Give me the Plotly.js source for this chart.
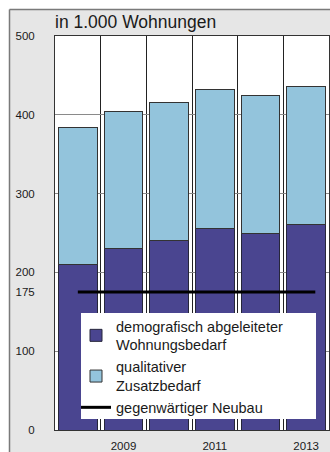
<!DOCTYPE html>
<html><head><meta charset="utf-8">
<script src="https://cdn.plot.ly/plotly-3.0.1.min.js"></script>
<style>html,body{margin:0;padding:0;background:#fff;}#chart{width:330px;height:452px;}</style>
</head><body><div id="chart"></div>
<script>
const years = [2008, 2009, 2010, 2011, 2012, 2013];
const demografisch = [210, 230, 241, 256, 249, 261];
const qualitativ = [174, 174, 175, 176, 175, 175];
const neubauX = [2008, 2013.2];
const neubauY = [175, 175];
const xTickVals = [2009, 2011, 2013];
const xTickText = ['2009', '2011', '2013'];
const yTickVals = [0, 100, 175, 200, 300, 400, 500];
const yGridVals = [100, 200, 300, 400];
const seriesNames = ['demografisch abgeleiteter<br>Wohnungsbedarf', 'qualitativer<br>Zusatzbedarf', 'gegenwärtiger Neubau'];
const titleText = 'in 1.000 Wohnungen';

const W = 330, H = 452, M = {l: 55, r: 1, t: 36, b: 22};
const pw = W - M.l - M.r, ph = H - M.t - M.b;
const fx = px => (px - M.l) / pw;
const fy = py => (H - M.b - py) / ph;
const FONT = 'Liberation Sans, Arial, Helvetica, sans-serif';
const TXT = '#1a1a1a';
const boundaries = years.slice(0, -1).map(y => y + 0.5);

const traces = [
  {type: 'bar', x: years, y: demografisch, name: seriesNames[0], width: 0.85,
   marker: {color: '#4a4590', line: {color: '#26263a', width: 1}}},
  {type: 'bar', x: years, y: qualitativ, name: seriesNames[1], width: 0.85,
   marker: {color: '#93c4dc', line: {color: '#333333', width: 1}}},
  {type: 'scatter', mode: 'lines', x: neubauX, y: neubauY, name: seriesNames[2],
   line: {color: '#000000', width: 3}}
];

const layout = {
  width: W, height: H,
  margin: M,
  paper_bgcolor: '#e6e6e6', plot_bgcolor: '#ffffff',
  barmode: 'stack',
  showlegend: true,
  font: {family: FONT, color: TXT},
  title: {text: titleText, xref: 'container', yref: 'container', x: 55 / W, xanchor: 'left',
          y: 1 - 22 / H, yanchor: 'middle', font: {family: FONT, size: 17.5, color: TXT}},
  xaxis: {range: [2007.5, 2013.5], tickvals: xTickVals, ticktext: xTickText, ticks: '',
          showgrid: false, zeroline: false, showline: true, mirror: true, linecolor: '#333', linewidth: 1,
          tickfont: {size: 11.5, color: TXT}, ticklabelstandoff: 5,
          minor: {tickvals: boundaries, showgrid: true, gridcolor: '#222', gridwidth: 1, ticks: ''}},
  yaxis: {range: [0, 500], tickvals: yTickVals, ticks: '', showgrid: false, zeroline: false,
          showline: true, mirror: true, linecolor: '#333', linewidth: 1,
          tickfont: {size: 11.5, color: TXT}, ticklabelstandoff: 17,
          minor: {tickvals: yGridVals, showgrid: true, gridcolor: '#8a8a8a', gridwidth: 1, ticks: ''}},
  legend: {x: fx(76), y: fy(310), xanchor: 'left', yanchor: 'top', traceorder: 'normal',
           bgcolor: 'rgba(0,0,0,0)', borderwidth: 0, font: {family: FONT, size: 14.5, color: TXT}},
  shapes: [
    {type: 'rect', xref: 'paper', yref: 'paper', x0: fx(0), x1: fx(9.5), y0: fy(H), y1: fy(0),
     fillcolor: '#ffffff', line: {width: 0}, layer: 'above'},
    {type: 'rect', xref: 'paper', yref: 'paper', x0: fx(0), x1: fx(W), y0: fy(9.5), y1: fy(0),
     fillcolor: '#ffffff', line: {width: 0}, layer: 'above'},
    {type: 'line', xref: 'paper', yref: 'paper', x0: fx(9.5), x1: fx(W), y0: fy(9.5), y1: fy(9.5),
     line: {color: '#7a7a7a', width: 1.5}, layer: 'above'},
    {type: 'line', xref: 'paper', yref: 'paper', x0: fx(9.5), x1: fx(9.5), y0: fy(9.5), y1: fy(H),
     line: {color: '#7a7a7a', width: 1.5}, layer: 'above'},
    {type: 'rect', xref: 'paper', yref: 'paper', x0: fx(81), x1: fx(316), y0: fy(419), y1: fy(313),
     fillcolor: '#ffffff', line: {width: 0}, layer: 'above'}
  ]
};

Plotly.newPlot('chart', traces, layout, {displayModeBar: false, staticPlot: true});
</script>
</body></html>
